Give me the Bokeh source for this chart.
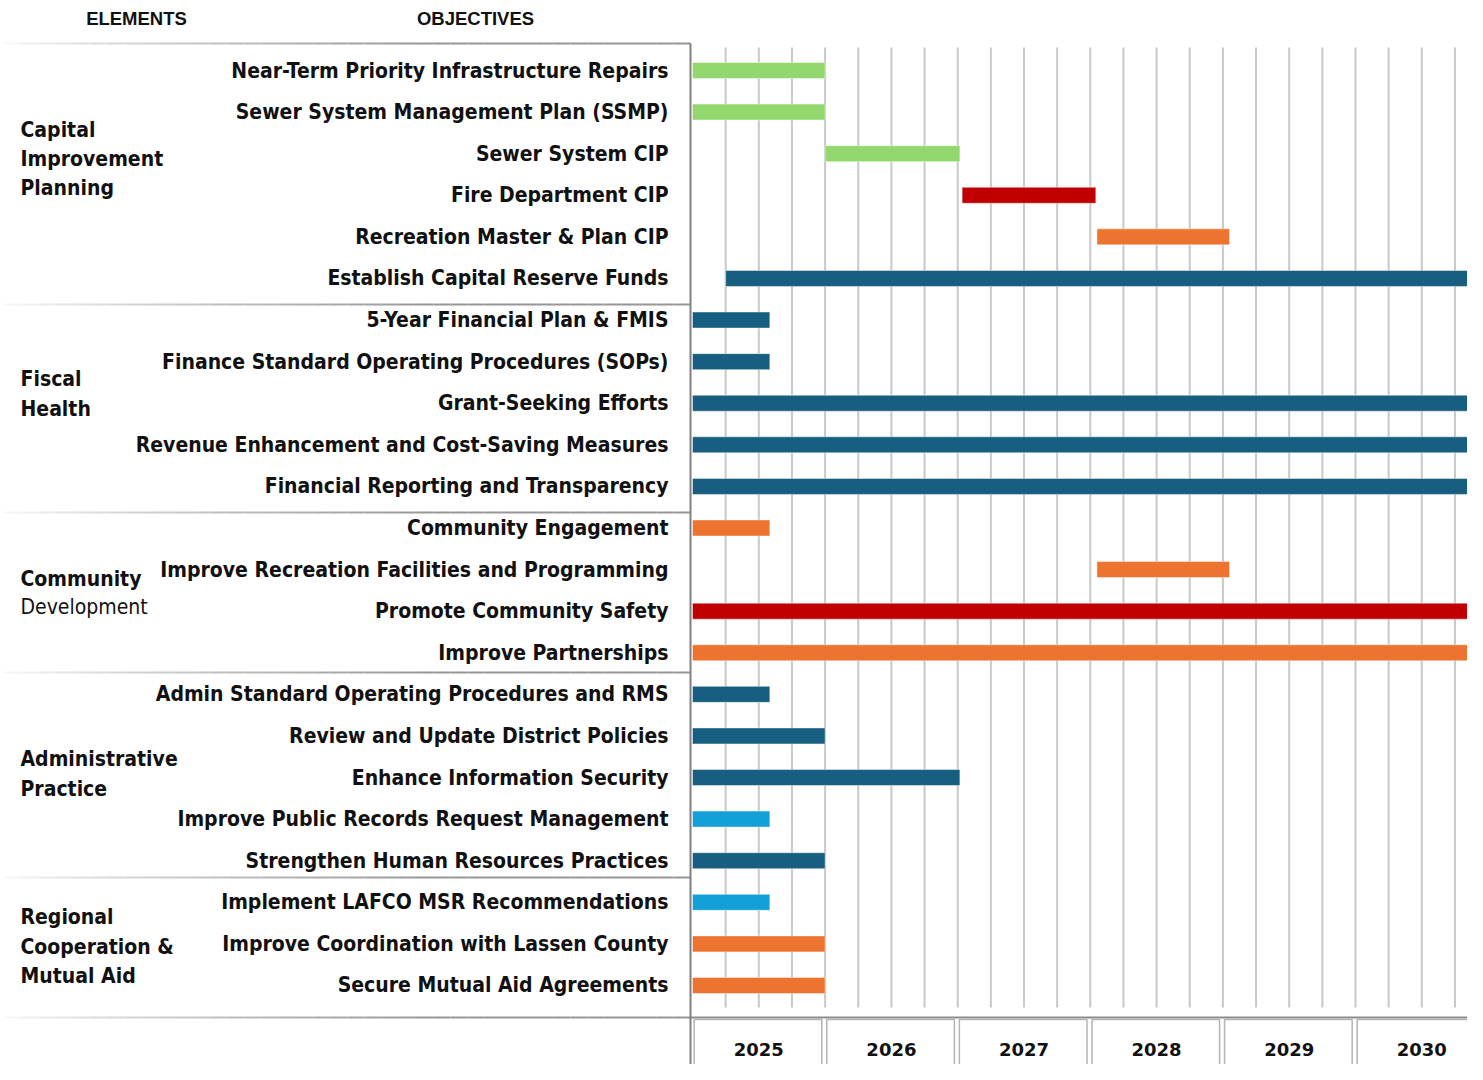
from bokeh.plotting import figure
from bokeh.models import Range1d, ColumnDataSource
from bokeh.embed import file_html
from bokeh.resources import INLINE
from bokeh.core.properties import value

# ---------------- data ----------------
objectives = [
    "Near-Term Priority Infrastructure Repairs",
    "Sewer System Management Plan (SSMP)",
    "Sewer System CIP",
    "Fire Department CIP",
    "Recreation Master & Plan CIP",
    "Establish Capital Reserve Funds",
    "5-Year Financial Plan & FMIS",
    "Finance Standard Operating Procedures (SOPs)",
    "Grant-Seeking Efforts",
    "Revenue Enhancement and Cost-Saving Measures",
    "Financial Reporting and Transparency",
    "Community Engagement",
    "Improve Recreation Facilities and Programming",
    "Promote Community Safety",
    "Improve Partnerships",
    "Admin Standard Operating Procedures and RMS",
    "Review and Update District Policies",
    "Enhance Information Security",
    "Improve Public Records Request Management",
    "Strengthen Human Resources Practices",
    "Implement LAFCO MSR Recommendations",
    "Improve Coordination with Lassen County",
    "Secure Mutual Aid Agreements",
]
# months from January 2025
start_month = [0, 0, 12, 24.4, 36.6, 3, 0, 0, 0, 0, 0, 0, 36.6, 0, 0, 0, 0, 0, 0, 0, 0, 0, 0]
end_month = [12, 12, 24.2, 36.5, 48.6, 72, 7, 7, 72, 72, 72, 7, 48.6, 72, 72, 7, 12, 24.2, 7, 12, 7, 12, 12]
bar_kind = ["green", "green", "green", "red", "orange", "navy",
            "navy", "navy", "navy", "navy", "navy",
            "orange", "orange", "red", "orange",
            "navy", "navy", "navy", "sky", "navy",
            "sky", "orange", "orange"]
palette = {"green": "#92D86E", "red": "#C00000", "orange": "#ED7331",
           "navy": "#175E81", "sky": "#13A0D8"}

element_lines = [
    ["Capital", "Improvement", "Planning"],
    ["Fiscal", "Health"],
    ["Community", "Development"],
    ["Administrative", "Practice"],
    ["Regional", "Cooperation &", "Mutual Aid"],
]
years = ["2025", "2026", "2027", "2028", "2029", "2030"]

# ---------------- layout (reference pixel geometry) ----------------
W, H = 1467, 1064
OFF = 0
X0, PX_M = 692.0, 11.05      # x pixel of month 0, pixels per month
Y0, PX_R = 70.0, 41.59       # y pixel of row 0 centre, pixels per row

def xd(px):
    return (px - X0) / PX_M

def yd(py):
    return (py - Y0) / PX_R

p = figure(width=W, height=H, output_backend="svg", toolbar_location=None,
           x_range=Range1d(xd(OFF), xd(OFF + W)),
           y_range=Range1d(yd(OFF + H), yd(OFF)),
           min_border=0, outline_line_color=None)
p.axis.visible = False
p.grid.visible = False
p.background_fill_color = "white"
p.border_fill_color = "white"

LABEL_FONT = value("DejaVu Sans Condensed, DejaVu Sans")

# vertical quarter grid lines
gx = [m for m in range(3, 72, 3)]
p.segment(x0=gx, x1=gx, y0=[yd(47)] * len(gx), y1=[yd(1007)] * len(gx),
          line_color="#c8c8c8", line_width=2)

# gradient separators on the label side
def grad_line(py, x_from=4, x_to=690, n=40, dark=150):
    xs0, xs1, cols = [], [], []
    for i in range(n):
        a = x_from + (x_to - x_from) * i / n
        b = x_from + (x_to - x_from) * (i + 1) / n
        t = (i + 0.5) / n
        g = int(250 - (250 - dark) * min(1.0, t * 1.6) ** 0.8)
        xs0.append(xd(a)); xs1.append(xd(b)); cols.append("#%02x%02x%02x" % (g, g, g))
    p.segment(x0=xs0, x1=xs1, y0=[yd(py)] * n, y1=[yd(py)] * n,
              line_color=cols, line_width=2)

for sep in [43, 304, 512, 672, 877, 1017]:
    grad_line(sep)

# bottom line across the chart side
p.segment(x0=[xd(690)], x1=[xd(1490)], y0=[yd(1017)], y1=[yd(1017)],
          line_color="#8c8c8c", line_width=2)

# year boxes
yb_left = [12 * i + 0.15 for i in range(len(years))]
yb_right = [12 * (i + 1) - 0.3 for i in range(len(years))]
p.quad(left=yb_left, right=yb_right, top=[yd(1019)] * len(years),
       bottom=[yd(1090)] * len(years), fill_color="white",
       line_color="#b4b4b4", line_width=1.5)
p.text(x=[12 * i + 6 for i in range(len(years))], y=[yd(1049)] * len(years),
       text=years, text_align="center", text_baseline="middle",
       text_font=value("DejaVu Sans"), text_font_style="bold",
       text_font_size="18px", text_color="#111111")

# left axis line
p.segment(x0=[xd(690)], x1=[xd(690)], y0=[yd(43)], y1=[yd(1085)],
          line_color="#808080", line_width=2)

# bars
rows = list(range(len(objectives)))
src = ColumnDataSource(dict(y=rows, left=start_month, right=end_month,
                            color=[palette[k] for k in bar_kind], name=objectives))
p.hbar(y="y", left="left", right="right", height=16 / PX_R, source=src,
       fill_color="color", line_color="white", line_alpha=0.45, line_width=1)

# objective labels
p.text(x=[xd(668)] * len(objectives), y=rows, text=objectives,
       text_align="right", text_baseline="middle",
       text_font=LABEL_FONT, text_font_style="bold",
       text_font_size="21px", text_color="#111111")

# element labels
line_y = [[129, 158, 187], [378, 408], [578, 606], [758, 788], [916, 946, 975]]
ex, ey, et, es = [], [], [], []
for lines, ys in zip(element_lines, line_y):
    for t, py in zip(lines, ys):
        ex.append(xd(20)); ey.append(yd(py)); et.append(t)
        es.append("normal" if t == "Development" else "bold")
src_e = ColumnDataSource(dict(x=ex, y=ey, t=et, s=es))
p.text(x="x", y="y", text="t", source=src_e, text_align="left",
       text_baseline="middle", text_font=LABEL_FONT, text_font_style="s",
       text_font_size="21px", text_color="#111111")

# column headers
p.text(x=[xd(136), xd(475)], y=[yd(18), yd(18)], text=["ELEMENTS", "OBJECTIVES"],
       text_align="center", text_baseline="middle",
       text_font=value("Liberation Sans Narrow, Liberation Sans"),
       text_font_style="bold", text_font_size="18.5px", text_color="#111111")

open("out.html", "w").write(file_html(p, INLINE))
